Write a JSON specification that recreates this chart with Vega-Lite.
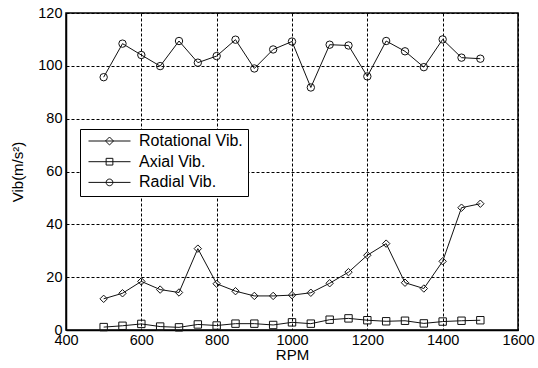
{
  "$schema": "https://vega.github.io/schema/vega-lite/v6.json",
  "autosize": {"type": "none"},
  "width": 452,
  "height": 317,
  "padding": {"left": 66, "top": 13, "right": 20, "bottom": 38},
  "background": "white",
  "config": {
    "font": "Liberation Sans",
    "view": {"stroke": "black", "strokeWidth": 1.5},
    "axis": {
      "domainColor": "black",
      "domainWidth": 1.5,
      "gridColor": "black",
      "gridDash": [3, 2],
      "gridOpacity": 1,
      "gridWidth": 1,
      "ticks": false,
      "labelColor": "black",
      "labelFontSize": 14.5,
      "titleColor": "black",
      "titleFontSize": 15,
      "titleFontWeight": "normal"
    }
  },
  "data": {
    "values": [
      {"rpm": 500, "series": "Rotational Vib.", "vib": 11.8},
      {"rpm": 550, "series": "Rotational Vib.", "vib": 13.9},
      {"rpm": 600, "series": "Rotational Vib.", "vib": 18.4},
      {"rpm": 650, "series": "Rotational Vib.", "vib": 15.3},
      {"rpm": 700, "series": "Rotational Vib.", "vib": 14.2},
      {"rpm": 750, "series": "Rotational Vib.", "vib": 30.8},
      {"rpm": 800, "series": "Rotational Vib.", "vib": 17.5},
      {"rpm": 850, "series": "Rotational Vib.", "vib": 14.7},
      {"rpm": 900, "series": "Rotational Vib.", "vib": 12.9},
      {"rpm": 950, "series": "Rotational Vib.", "vib": 12.9},
      {"rpm": 1000, "series": "Rotational Vib.", "vib": 13.2},
      {"rpm": 1050, "series": "Rotational Vib.", "vib": 14.1},
      {"rpm": 1100, "series": "Rotational Vib.", "vib": 17.7},
      {"rpm": 1150, "series": "Rotational Vib.", "vib": 21.9},
      {"rpm": 1200, "series": "Rotational Vib.", "vib": 28.3},
      {"rpm": 1250, "series": "Rotational Vib.", "vib": 32.7},
      {"rpm": 1300, "series": "Rotational Vib.", "vib": 17.9},
      {"rpm": 1350, "series": "Rotational Vib.", "vib": 15.7},
      {"rpm": 1400, "series": "Rotational Vib.", "vib": 26.0},
      {"rpm": 1450, "series": "Rotational Vib.", "vib": 46.3},
      {"rpm": 1500, "series": "Rotational Vib.", "vib": 47.8},
      {"rpm": 500, "series": "Axial Vib.", "vib": 1.1},
      {"rpm": 550, "series": "Axial Vib.", "vib": 1.6},
      {"rpm": 600, "series": "Axial Vib.", "vib": 2.3},
      {"rpm": 650, "series": "Axial Vib.", "vib": 1.3},
      {"rpm": 700, "series": "Axial Vib.", "vib": 1.0},
      {"rpm": 750, "series": "Axial Vib.", "vib": 2.1},
      {"rpm": 800, "series": "Axial Vib.", "vib": 1.7},
      {"rpm": 850, "series": "Axial Vib.", "vib": 2.4},
      {"rpm": 900, "series": "Axial Vib.", "vib": 2.4},
      {"rpm": 950, "series": "Axial Vib.", "vib": 1.9},
      {"rpm": 1000, "series": "Axial Vib.", "vib": 2.9},
      {"rpm": 1050, "series": "Axial Vib.", "vib": 2.4},
      {"rpm": 1100, "series": "Axial Vib.", "vib": 3.9},
      {"rpm": 1150, "series": "Axial Vib.", "vib": 4.4},
      {"rpm": 1200, "series": "Axial Vib.", "vib": 3.7},
      {"rpm": 1250, "series": "Axial Vib.", "vib": 3.3},
      {"rpm": 1300, "series": "Axial Vib.", "vib": 3.5},
      {"rpm": 1350, "series": "Axial Vib.", "vib": 2.5},
      {"rpm": 1400, "series": "Axial Vib.", "vib": 3.2},
      {"rpm": 1450, "series": "Axial Vib.", "vib": 3.5},
      {"rpm": 1500, "series": "Axial Vib.", "vib": 3.7},
      {"rpm": 500, "series": "Radial Vib.", "vib": 95.7},
      {"rpm": 550, "series": "Radial Vib.", "vib": 108.4},
      {"rpm": 600, "series": "Radial Vib.", "vib": 104.1},
      {"rpm": 650, "series": "Radial Vib.", "vib": 99.9},
      {"rpm": 700, "series": "Radial Vib.", "vib": 109.4},
      {"rpm": 750, "series": "Radial Vib.", "vib": 101.2},
      {"rpm": 800, "series": "Radial Vib.", "vib": 103.7},
      {"rpm": 850, "series": "Radial Vib.", "vib": 109.9},
      {"rpm": 900, "series": "Radial Vib.", "vib": 99.0},
      {"rpm": 950, "series": "Radial Vib.", "vib": 106.2},
      {"rpm": 1000, "series": "Radial Vib.", "vib": 109.2},
      {"rpm": 1050, "series": "Radial Vib.", "vib": 91.8},
      {"rpm": 1100, "series": "Radial Vib.", "vib": 108.0},
      {"rpm": 1150, "series": "Radial Vib.", "vib": 107.7},
      {"rpm": 1200, "series": "Radial Vib.", "vib": 96.0},
      {"rpm": 1250, "series": "Radial Vib.", "vib": 109.4},
      {"rpm": 1300, "series": "Radial Vib.", "vib": 105.5},
      {"rpm": 1350, "series": "Radial Vib.", "vib": 99.5},
      {"rpm": 1400, "series": "Radial Vib.", "vib": 110.0},
      {"rpm": 1450, "series": "Radial Vib.", "vib": 103.1},
      {"rpm": 1500, "series": "Radial Vib.", "vib": 102.7}
    ]
  },
  "encoding": {
    "x": {
      "field": "rpm",
      "type": "quantitative",
      "title": "RPM",
      "scale": {"domain": [400, 1600], "nice": false, "zero": false},
      "axis": {"values": [400, 600, 800, 1000, 1200, 1400, 1600], "format": "d", "labelPadding": 3, "titlePadding": 1, "labelFlush": false}
    },
    "y": {
      "field": "vib",
      "type": "quantitative",
      "title": "Vib(m/s²)",
      "scale": {"domain": [0, 120], "nice": false},
      "axis": {"values": [0, 20, 40, 60, 80, 100, 120], "labelPadding": 4, "titlePadding": 12}
    }
  },
  "layer": [
    {
      "mark": {"type": "line", "color": "#111", "strokeWidth": 1},
      "encoding": {"detail": {"field": "series"}}
    },
    {
      "mark": {"type": "point", "filled": false, "color": "#111", "strokeWidth": 1, "size": 55, "opacity": 1},
      "encoding": {
        "shape": {
          "field": "series",
          "type": "nominal",
          "scale": {
            "domain": ["Rotational Vib.", "Axial Vib.", "Radial Vib."],
            "range": ["diamond", "square", "circle"]
          },
          "legend": null
        }
      }
    },
    {
      "transform": [{"filter": "false"}],
      "mark": {"type": "point", "filled": false, "color": "#111", "strokeWidth": 1, "opacity": 1},
      "encoding": {
        "shape": {
          "field": "series",
          "type": "nominal",
          "scale": {
            "domain": ["Rotational Vib.", "Axial Vib.", "Radial Vib."],
            "range": [
              "M-1,0H1M-0.19,0L0,-0.19L0.19,0L0,0.19Z",
              "M-1,0H1M-0.16,-0.16H0.16V0.16H-0.16Z",
              "M-1,0H1M0.16,0A0.16,0.16,0,1,1,-0.16,0A0.16,0.16,0,1,1,0.16,0Z"
            ]
          },
          "legend": {
            "title": null,
            "orient": "none",
            "legendX": 14,
            "legendY": 116,
            "fillColor": "white",
            "strokeColor": "black",
            "padding": 5,
            "clipHeight": 14,
            "symbolOffset": 3,
            "labelFontSize": 16,
            "labelColor": "black",
            "labelOffset": 8,
            "rowPadding": 4.7,
            "symbolSize": 1764,
            "symbolStrokeWidth": 1,
            "symbolStrokeColor": "#111",
            "symbolOpacity": 1
          }
        }
      }
    }
  ],
  "resolve": {"scale": {"shape": "independent"}}
}
